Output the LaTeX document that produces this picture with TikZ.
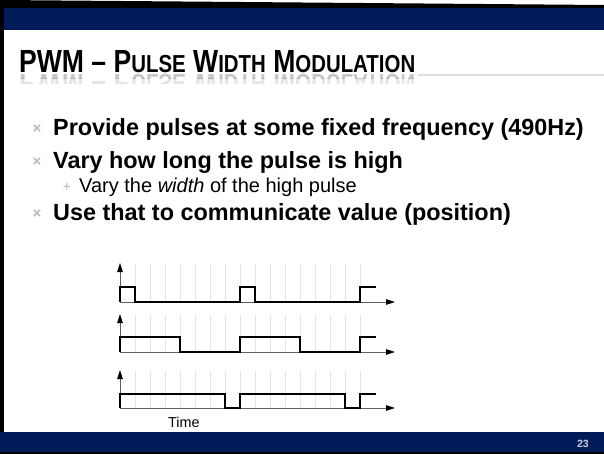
\documentclass[tikz,border=0pt]{standalone}
\usepackage{fontspec}
\setmainfont{Liberation Sans}
\usepackage{graphicx}
\usetikzlibrary{arrows.meta}
\definecolor{navy}{RGB}{0,28,88}
\definecolor{bulletgray}{RGB}{185,185,185}
\definecolor{gridgray}{RGB}{228,228,228}
\definecolor{axisgray}{RGB}{95,95,95}
\definecolor{titleline}{RGB}{222,222,222}
\definecolor{pagegray}{RGB}{200,205,215}
\newcommand{\fsc}[1]{{\fontsize{24.6}{24.6}\selectfont #1}}
\newcommand{\titletext}{\scalebox{0.83}[1]{\fontsize{32}{32}\selectfont\bfseries PWM -- P\fsc{ULSE} W\fsc{IDTH} M\fsc{ODULATION}}}
\begin{document}
\begin{tikzpicture}[x=1pt,y=-1pt,
  bodytext/.style={anchor=base west,inner sep=0pt,font=\fontsize{23.4}{26}\selectfont\bfseries},
  subtext/.style={anchor=base west,inner sep=0pt,font=\fontsize{20}{24}\selectfont},
  bulletmark/.style={inner sep=0pt,text=bulletgray,font=\fontsize{15}{15}\selectfont\bfseries},
  gridline/.style={draw=gridgray,line width=0.9pt},
  axisline/.style={draw=axisgray,line width=0.9pt,-{Triangle[length=9pt,width=5.5pt,black]}},
  signal/.style={draw=black,line width=2.8pt,line join=miter},
  reflection/.style={anchor=base west,inner sep=0pt,yscale=-1}]
\useasboundingbox (0,0) rectangle (604,454);
\fill[white] (0,0) rectangle (604,454);
% frame and bars
\fill[black] (0,0) -- (604,5) -- (604,8) -- (0,8) -- cycle;
\fill[navy] (0,8) rectangle (604,30);
\fill[black] (0,0) rectangle (4,432);
\fill[navy] (0,432) rectangle (604,454);
\fill[black] (0,452) rectangle (604,454);
% title
\node[anchor=base west,inner sep=0pt] (title) at (19,73) {\titletext};
\begin{scope}
  \clip (0,74) rectangle (604,78.5);
  \node[reflection,opacity=0.22] (titlerefla) at (19,75) {\titletext};
\end{scope}
\begin{scope}
  \clip (0,78.5) rectangle (604,84);
  \node[reflection,opacity=0.1] (titlereflb) at (19,75) {\titletext};
\end{scope}
\draw[titleline,line width=2pt] (418,75) -- (604,75);
% bullets
\node[bulletmark] (m1) at (37,129) {×};
\node[bodytext] (t1) at (53,136) {Provide pulses at some fixed frequency (490Hz)};
\node[bulletmark] (m2) at (37,162) {×};
\node[bodytext] (t2) at (53,169) {Vary how long the pulse is high};
\node[inner sep=0pt,text=bulletgray,font=\fontsize{14}{14}\selectfont] (m3) at (67,187) {+};
\node[subtext] (t3) at (79,193) {Vary the \textit{width} of the high pulse};
\node[bulletmark] (m4) at (37,214) {×};
\node[bodytext] (t4) at (53,221) {Use that to communicate value (position)};
% waveforms: grid and axes
\foreach \yb/\yt in {302/264, 352/315, 408/371} {
  \foreach \k in {1,...,16} \draw[gridline] ({120+15*\k},\yt) -- ({120+15*\k},\yb);
  \draw[axisline] (120,\yb) -- (120,\yt-1);
  \draw[axisline] (120,\yb) -- (395,\yb);
}
% signals
\draw[signal] (120,302) -- (120,287) -- (135,287) -- (135,302) -- (240,302) -- (240,287) -- (255,287) -- (255,302) -- (360,302) -- (360,287) -- (376,287);
\draw[signal] (120,352) -- (120,337) -- (180,337) -- (180,352) -- (240,352) -- (240,337) -- (300,337) -- (300,352) -- (360,352) -- (360,337) -- (376,337);
\draw[signal] (120,408) -- (120,394) -- (225,394) -- (225,408) -- (240,408) -- (240,394) -- (345,394) -- (345,408) -- (360,408) -- (360,394) -- (376,394);
\node[anchor=base west,inner sep=0pt,font=\fontsize{14.4}{16}\selectfont] (time) at (168,427) {Time};
% page number
\node[anchor=base east,inner sep=0pt,text=pagegray,font=\fontsize{10.5}{12}\selectfont\bfseries] (page) at (589,447) {23};
\end{tikzpicture}
\end{document}
